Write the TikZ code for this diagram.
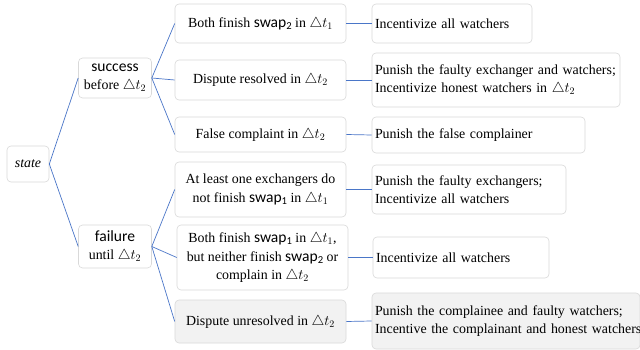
\documentclass[tikz,border=0pt]{standalone}
\usepackage{fontspec}
\setmainfont{Liberation Serif}
\newfontfamily\swapfont[Scale=1.12]{Carlito}
\newcommand{\sw}[1]{{\swapfont swap\raisebox{-0.3ex}{\fontsize{9.5}{9.5}\selectfont #1}}}
\definecolor{boxgray}{HTML}{D9D9D9}
\definecolor{linkblue}{HTML}{4A76C8}
\definecolor{fillgray}{HTML}{F2F2F2}
\begin{document}
\begin{tikzpicture}[x=1pt,y=-1pt,
  box/.style={draw=boxgray, line width=0.6pt, rounded corners=4pt, font=\fontsize{13.9}{18.5}\selectfont, inner sep=0pt, align=center},
  rbox/.style={box, align=left, inner xsep=3pt},
  shaded/.style={fill=fillgray},
  link/.style={draw=linkblue, line width=0.7pt}]
\useasboundingbox[fill=white] (0,0) rectangle (640,350);
% root
\node[box, minimum width=42pt, minimum height=36pt] (state) at (28,164) {\textit{state}};
% level 1
\node[box, minimum width=73pt, minimum height=40pt] (succ) at (115,78) {{\swapfont success}\\before $\triangle t_2$};
\node[box, minimum width=73pt, minimum height=43pt] (fail) at (115,246.5) {{\swapfont failure}\\until $\triangle t_2$};
% level 2
\node[box, minimum width=171pt, minimum height=39pt] (A) at (260.5,23.5) {Both finish \sw{2} in $\triangle t_1$};
\node[box, minimum width=171pt, minimum height=40pt] (B) at (260.5,80) {Dispute resolved in $\triangle t_2$};
\node[box, minimum width=171pt, minimum height=35pt] (C) at (260.5,134.5) {False complaint in $\triangle t_2$};
\node[box, minimum width=171pt, minimum height=55pt] (D) at (260.5,189.5) {At least one exchangers do\\not finish \sw{1} in $\triangle t_1$};
\node[box, minimum width=171pt, minimum height=65pt] (E) at (262.5,257.5) {Both finish \sw{1} in $\triangle t_1$,\\but neither finish \sw{2} or\\complain in $\triangle t_2$};
\node[box, shaded, minimum width=171pt, minimum height=43pt] (F) at (260.5,321.5) {Dispute unresolved in $\triangle t_2$};
% level 3
\node[rbox, text width=154pt, minimum height=39pt] (R1) at (452,23.5) {Incentivize all watchers};
\node[rbox, text width=242pt, minimum height=54pt] (R2) at (496,80) {Punish the faulty exchanger and watchers;\\Incentivize honest watchers in $\triangle t_2$};
\node[rbox, text width=207pt, minimum height=36pt] (R3) at (478.5,135) {Punish the false complainer};
\node[rbox, text width=188pt, minimum height=49pt] (R4) at (469,189.5) {Punish the faulty exchangers;\\Incentivize all watchers};
\node[rbox, text width=170pt, minimum height=41pt] (R5) at (461,257.5) {Incentivize all watchers};
\node[rbox, shaded, text width=262pt, minimum height=56pt] (R6) at (506,321) {\mbox{Punish the complainee and faulty watchers;}\\\mbox{Incentive the complainant and honest watchers}};
% connectors
\draw[link] (state.east) -- (succ.west);
\draw[link] (state.east) -- (fail.west);
\draw[link] (succ.east) -- (A.west);
\draw[link] (succ.east) -- (B.west);
\draw[link] (succ.east) -- (C.west);
\draw[link] (fail.east) -- (D.west);
\draw[link] (fail.east) -- (E.west);
\draw[link] (fail.east) -- (F.west);
\draw[link] (A.east) -- (R1.west);
\draw[link] (B.east) -- (R2.west);
\draw[link] (C.east) -- (R3.west);
\draw[link] (D.east) -- (R4.west);
\draw[link] (E.east) -- (R5.west);
\draw[link] (F.east) -- (R6.west);
\end{tikzpicture}
\end{document}
